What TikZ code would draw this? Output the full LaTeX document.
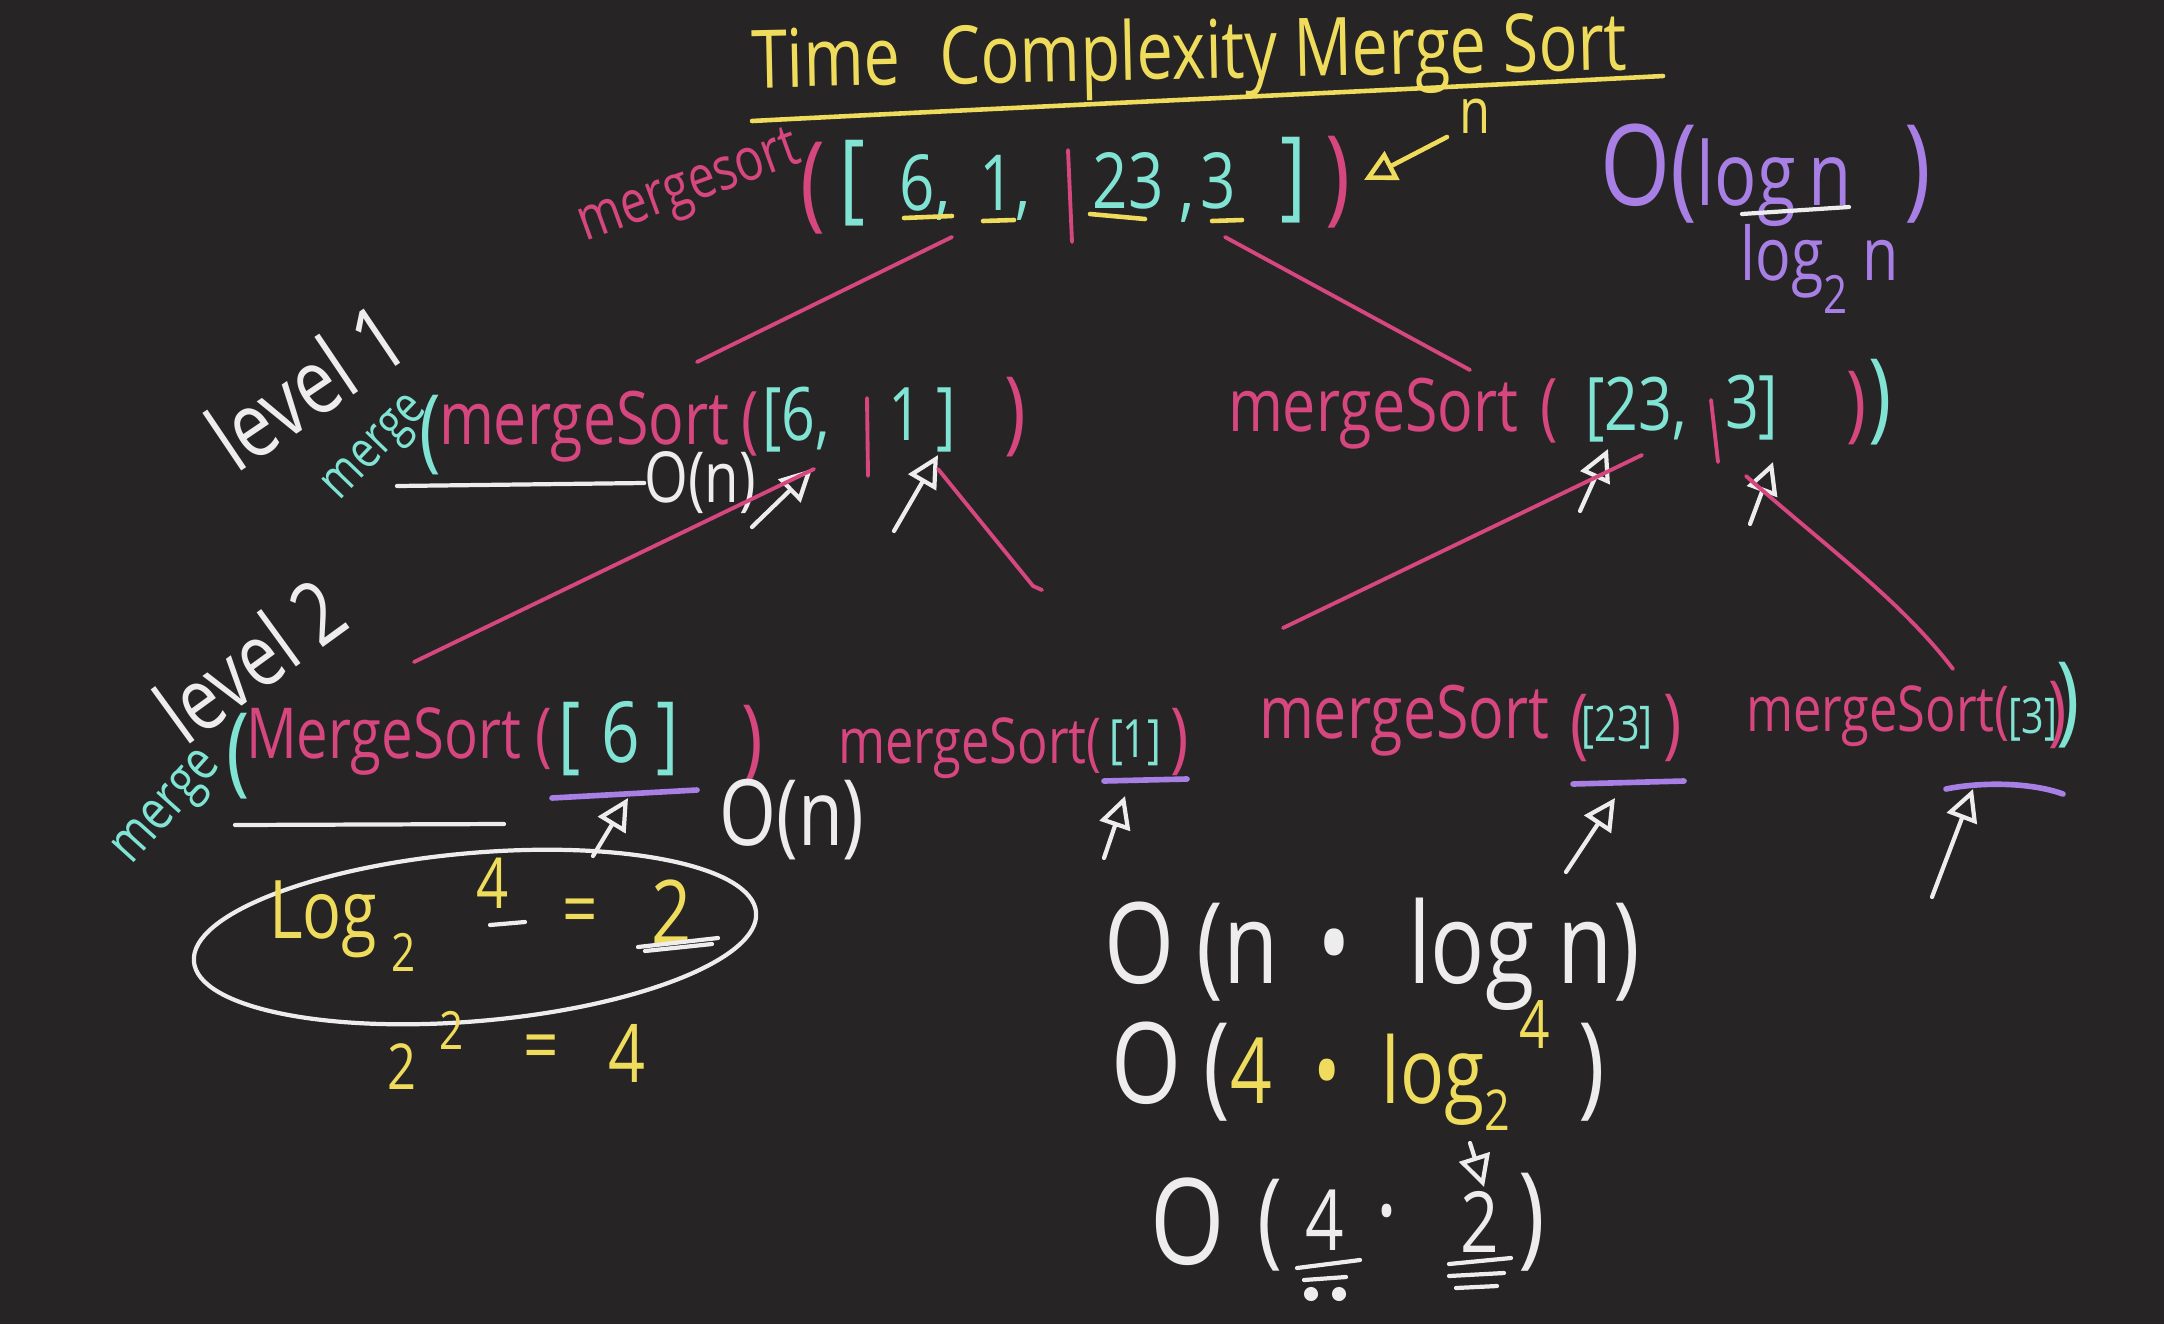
\documentclass[tikz,border=0pt]{standalone}
\usepackage{fontspec}
\setmainfont{Open Sans}[FakeStretch=0.8]
\usetikzlibrary{arrows.meta,shapes.geometric}
\definecolor{cbg}{HTML}{262424}
\definecolor{cpink}{HTML}{D6467F}
\definecolor{ccyan}{HTML}{80E3D3}
\definecolor{cyellow}{HTML}{F0DC5C}
\definecolor{cpurple}{HTML}{A87FE4}
\definecolor{cwhite}{HTML}{EDEDED}
\tikzset{
  every node/.style={inner sep=0pt, outer sep=0pt},
  fs/.style={font=\fontsize{#1}{#1}\selectfont},
  pk/.style={text=cpink}, cy/.style={text=ccyan}, yl/.style={text=cyellow},
  wt/.style={text=cwhite}, pu/.style={text=cpurple},
  pkl/.style={draw=cpink, line width=1.1pt, line cap=round},
  wtl/.style={draw=cwhite, line width=1.2pt, line cap=round},
  pul/.style={draw=cpurple, line width=1.6pt, line cap=round},
  yll/.style={draw=cyellow, line width=1.3pt, line cap=round},
  oarr/.style={-{Triangle[open, length=9pt, width=9pt]}},
}
\begin{document}
\begin{tikzpicture}[x=0.01cm, y=-0.01cm]
\useasboundingbox (0,0) rectangle (2164,1324);
\fill[cbg] (0,0) rectangle (2164,1324);

% ---------- title ----------
\node[yl, fs=23, anchor=base west, rotate=1.2] (title) at (752,88) {Time\hspace{0.5em}Complexity Merge Sort};
\coordinate (ulA) at (752,121); \coordinate (ulB) at (1663,76);
\draw[yll] (ulA) .. controls (1000,108) and (1400,90) .. (ulB);

% ---------- top call ----------
\node[pk, fs=17, rotate=20] (ms0) at (690,190) {mergesort};
\node[pk, fs=30] (p0l) at (813,188) {(};
\node[cy, fs=28] (b0l) at (852,183) {[};
\node[cy, fs=22, anchor=base] (n6) at (925,210) {6,};
\node[cy, fs=22, anchor=base] (n1) at (1005,210) {1,};
\coordinate (bar0a) at (1068,150); \coordinate (bar0b) at (1072,242);
\draw[pkl] (bar0a) -- (bar0b);
\node[cy, fs=22, anchor=base] (n23) at (1128,208) {23};
\node[cy, fs=22, anchor=base] (ncm) at (1187,212) {,};
\node[cy, fs=22, anchor=base] (n3) at (1218,208) {3};
\node[cy, fs=28] (b0r) at (1293,180) {]};
\node[pk, fs=30] (p0r) at (1338,182) {)};
\coordinate (u6a) at (904,218); \coordinate (u6b) at (952,216);
\coordinate (u1a) at (983,221); \coordinate (u1b) at (1014,220);
\coordinate (u23a) at (1090,214); \coordinate (u23b) at (1145,219);
\coordinate (u3a) at (1212,221); \coordinate (u3b) at (1242,220);
\draw[yll] (u6a) -- (u6b); \draw[yll] (u1a) -- (u1b);
\draw[yll] (u23a) -- (u23b); \draw[yll] (u3a) -- (u3b);
\node[yl, fs=18, anchor=base] (nn) at (1475,133) {n};
\coordinate (arrN) at (1447,137); \coordinate (arrT) at (1364,180);
\draw[yll, oarr] (arrN) -- (arrT);

\node[pu, fs=32, anchor=base west] (olog) at (1600,205) {O(\fontsize{25}{25}\selectfont log\hspace{0.15em}n\hspace{0.6em}\fontsize{32}{32}\selectfont)};
\coordinate (lgu1) at (1742,214); \coordinate (lgu2) at (1849,207);
\draw[wtl] (lgu1) -- (lgu2);
\node[pu, fs=21, anchor=base] (log2n) at (1820,280) {log\raisebox{-0.45em}{\fontsize{15}{15}\selectfont 2}\hspace{0.2em}n};

% top connectors
\coordinate (c0a) at (952,237); \coordinate (c1a) at (697,362);
\coordinate (c0b) at (1225,237); \coordinate (c1b) at (1470,370);
\draw[pkl] (c0a) -- (c1a);
\draw[pkl] (c0b) -- (c1b);

% ---------- level 1 ----------
\node[wt, fs=26, rotate=34] (lv1) at (306,386) {level 1};
\node[cy, fs=15, rotate=46] (mg1) at (378,450) {merge};
\node[cy, fs=26] (cp1) at (430,435) {(};
\node[pk, fs=21, anchor=base west] (ms1) at (439,444) {mergeSort\,(};
\node[cy, fs=21, anchor=base west] (a1a) at (762,440) {[6,};
\coordinate (bar1a) at (867,398); \coordinate (bar1b) at (868,476);
\draw[pkl] (bar1a) -- (bar1b);
\node[cy, fs=21, anchor=base west] (a1b) at (888,440) {1\hspace{0.2em}]};
\node[pk, fs=26] (pc1) at (1015,417) {)};
\node[wt, fs=20] (on1) at (700,483) {O(n)};
\coordinate (wl1) at (397,486);
\draw[wtl] (wl1) -- (on1.west);
\coordinate (wa1s) at (752,527); \coordinate (wa1e) at (812,469);
\coordinate (wa2s) at (894,531); \coordinate (wa2e) at (938,455);
\draw[wtl, oarr] (wa1s) -- (wa1e);
\draw[wtl, oarr] (wa2s) -- (wa2e);

\node[pk, fs=21, anchor=base west] (ms1r) at (1228,431) {mergeSort\hspace{0.3em}(};
\node[cy, fs=21, anchor=base west] (a1c) at (1585,430) {[23,};
\coordinate (bar2a) at (1711,400); \coordinate (bar2b) at (1718,462);
\draw[pkl] (bar2a) -- (bar2b);
\node[cy, fs=21, anchor=base west] (a1d) at (1725,428) {3]};
\node[pk, fs=24] (pc1r) at (1856,408) {)};
\node[cy, fs=28] (cc1r) at (1880,402) {)};
\coordinate (wa3s) at (1580,511); \coordinate (wa3e) at (1608,449);
\coordinate (wa4s) at (1750,524); \coordinate (wa4e) at (1773,462);
\draw[wtl, oarr] (wa3s) -- (wa3e);
\draw[wtl, oarr] (wa4s) -- (wa4e);

% level 1 -> level 2 connectors
\coordinate (l1a) at (814,469); \coordinate (l2a) at (414,662);
\coordinate (l1b) at (938,469); \coordinate (l2b) at (1042,590);
\coordinate (l1c) at (1642,455); \coordinate (l2c) at (1283,628);
\coordinate (l1d) at (1746,476); \coordinate (l2d) at (1953,669);
\draw[pkl] (l1a) -- (l2a);
\draw[pkl] (l1b) -- (1033,586) -- (l2b);
\draw[pkl] (l1c) -- (l2c);
\draw[pkl] (l1d) .. controls (1830,550) and (1900,600) .. (l2d);

% ---------- level 2 ----------
\node[wt, fs=25, rotate=36] (lv2) at (250,660) {level 2};
\node[cy, fs=16, rotate=48] (mg2) at (170,810) {merge};
\node[cy, fs=28] (cp2) at (238,756) {(};
\node[pk, fs=20, anchor=base west] (ms2a) at (246,758) {MergeSort (};
\node[cy, fs=24, anchor=base west] (a2a) at (558,762) {[\hspace{0.25em}6\hspace{0.2em}]};
\node[pk, fs=26] (pc2a) at (752,745) {)};
\coordinate (pu1a) at (552,798); \coordinate (pu1b) at (697,790);
\draw[pul] (pu1a) -- (pu1b);
\coordinate (wl2a) at (235,825); \coordinate (wl2b) at (504,824);
\draw[wtl] (wl2a) -- (wl2b);
\coordinate (wa5s) at (593,856); \coordinate (wa5e) at (628,798);
\draw[wtl, oarr] (wa5s) -- (wa5e);
\node[wt, fs=26] (on2) at (792,820) {O(n)};

\node[pk, fs=18, anchor=base west] (ms2b) at (838,763) {mergeSort(};
\node[cy, fs=15] (a2b) at (1135,743) {[1]};
\node[pk, fs=22] (pc2b) at (1180,742) {)};
\coordinate (pu2a) at (1104,781); \coordinate (pu2b) at (1187,779);
\draw[pul] (pu2a) -- (pu2b);
\coordinate (wa6s) at (1104,858); \coordinate (wa6e) at (1125,796);
\draw[wtl, oarr] (wa6s) -- (wa6e);

\node[pk, fs=21, anchor=base west] (ms2c) at (1259,738) {mergeSort};
\node[pk, fs=22] (po2c) at (1580,728) {(};
\node[cy, fs=14] (a2c) at (1617,728) {[23]};
\node[pk, fs=22] (pc2c) at (1673,728) {)};
\coordinate (pu3a) at (1573,784); \coordinate (pu3b) at (1684,781);
\draw[pul] (pu3a) -- (pu3b);
\coordinate (wa7s) at (1566,872); \coordinate (wa7e) at (1615,798);
\draw[wtl, oarr] (wa7s) -- (wa7e);

\node[pk, fs=18, anchor=base west] (ms2d) at (1746,731) {mergeSort(};
\node[cy, fs=14] (a2d) at (2033,720) {[3]};
\node[pk, fs=22] (pc2d) at (2058,715) {)};
\node[cy, fs=28] (cc2d) at (2068,705) {)};
\coordinate (pu4a) at (1946,789); \coordinate (pu4b) at (2063,794);
\draw[pul] (pu4a) .. controls (1980,782) and (2030,782) .. (pu4b);
\coordinate (wa8s) at (1932,897); \coordinate (wa8e) at (1973,789);
\draw[wtl, oarr] (wa8s) -- (wa8e);

% ---------- log example ----------
\node[draw=cwhite, line width=1.2pt, ellipse, minimum width=5.64cm, minimum height=1.68cm, rotate=5] (ell) at (475,937) {};
\node[yl, fs=23, anchor=base west] (lg) at (269,938) {Log};
\node[yl, fs=15] (lg2) at (404,952) {2};
\node[yl, fs=20] (lg4) at (493,883) {4};
\coordinate (d4a) at (490,925); \coordinate (d4b) at (525,922);
\draw[wtl] (d4a) -- (d4b);
\node[yl, fs=22] (lgeq) at (580,918) {=};
\node[yl, fs=25] (lgr) at (672,912) {2};
\coordinate (u2a) at (638,947); \coordinate (u2b) at (718,938);
\coordinate (u2c) at (645,951); \coordinate (u2d) at (712,944);
\draw[wtl] (u2a) -- (u2b); \draw[wtl] (u2c) -- (u2d);

\node[yl, fs=18] (p2) at (402,1067) {2};
\node[yl, fs=15] (p2s) at (452,1030) {2};
\node[yl, fs=22] (peq) at (541,1054) {=};
\node[yl, fs=23] (p4) at (627,1053) {4};

% ---------- final complexity ----------
\node[wt, fs=32, anchor=base west] (big1) at (1104,983) {O\hspace{0.2em}(n\hspace{0.35em}•\hspace{0.5em}log n)};
\node[wt, fs=32, anchor=base west] (big2) at (1111,1103) {O\hspace{0.2em}(\textcolor{cyellow}{\fontsize{26}{26}\selectfont 4\hspace{0.45em}•\hspace{0.45em}log\raisebox{-0.3em}{\fontsize{16}{16}\selectfont 2}\hspace{0.1em}\raisebox{0.6em}{\fontsize{19}{19}\selectfont 4}}\hspace{0.25em})};
\coordinate (da) at (1470,1143); \coordinate (db) at (1484,1187);
\draw[wtl, oarr] (da) -- (db);
\node[wt, fs=34] (o3) at (1188,1222) {O};
\node[wt, fs=30] (o3l) at (1270,1225) {(};
\node[wt, fs=24] (o34) at (1325,1220) {4};
\node[wt, fs=16] (o3d) at (1387,1218) {•};
\node[wt, fs=24] (o32) at (1480,1222) {2};
\node[wt, fs=32] (o3r) at (1532,1222) {)};
\coordinate (f1a) at (1297,1268); \coordinate (f1b) at (1360,1260);
\coordinate (f2a) at (1304,1280); \coordinate (f2b) at (1346,1277);
\draw[wtl] (f1a) -- (f1b); \draw[wtl] (f2a) -- (f2b);
\fill[cwhite] (1311,1294) circle (2pt) (1339,1294) circle (2pt);
\coordinate (g1a) at (1449,1264); \coordinate (g1b) at (1511,1258);
\coordinate (g2a) at (1449,1276); \coordinate (g2b) at (1504,1273);
\coordinate (g3a) at (1456,1288); \coordinate (g3b) at (1497,1286);
\draw[wtl] (g1a) -- (g1b); \draw[wtl] (g2a) -- (g2b); \draw[wtl] (g3a) -- (g3b);
\end{tikzpicture}
\end{document}
